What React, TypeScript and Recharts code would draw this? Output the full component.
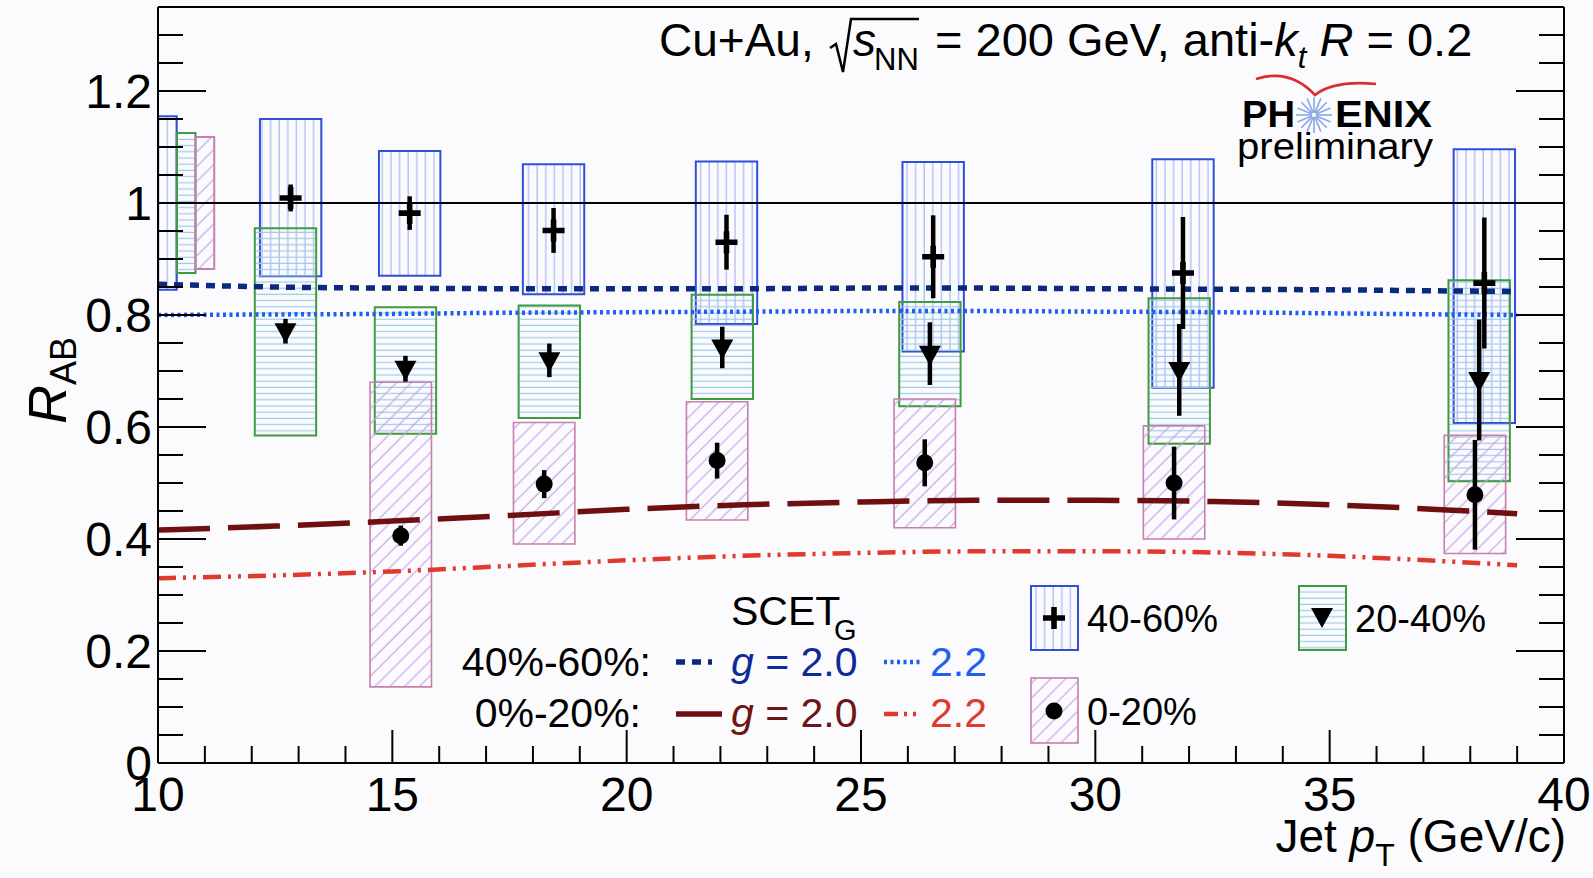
import {
  ComposedChart,
  XAxis,
  YAxis,
  Line,
  Scatter,
  ErrorBar,
  ReferenceArea,
  ReferenceLine,
} from "recharts";

const FONT = "'Liberation Sans', Arial, Helvetica, sans-serif";

// 40-60% centrality (crosses)
const pt4060 = [12.83, 15.37, 18.44, 22.13, 26.54, 31.87, 38.3];
const raa4060 = [1.009, 0.982, 0.951, 0.93, 0.904, 0.875, 0.857];
const stat4060 = [0.024, 0.03, 0.04, 0.049, 0.074, 0.1, 0.117];
const sysLow4060 = [0.869, 0.87, 0.837, 0.784, 0.735, 0.67, 0.607];
const sysHigh4060 = [1.15, 1.093, 1.069, 1.074, 1.073, 1.078, 1.096];

// 20-40% centrality (triangles)
const pt2040 = [12.72, 15.28, 18.35, 22.04, 26.47, 31.79, 38.19];
const raa2040 = [0.771, 0.704, 0.719, 0.742, 0.731, 0.702, 0.684];
const stat2040 = [0.022, 0.023, 0.03, 0.037, 0.056, 0.082, 0.108];
const sysLow2040 = [0.585, 0.588, 0.616, 0.65, 0.637, 0.57, 0.503];
const sysHigh2040 = [0.955, 0.814, 0.817, 0.836, 0.823, 0.83, 0.862];

// 0-20% centrality (circles)
const pt020 = [15.18, 18.24, 21.93, 26.36, 31.68, 38.1];
const raa020 = [0.406, 0.498, 0.54, 0.536, 0.5, 0.479];
const stat020 = [0.018, 0.025, 0.032, 0.042, 0.065, 0.098];
const sysLow020 = [0.136, 0.391, 0.434, 0.42, 0.4, 0.374];
const sysHigh020 = [0.68, 0.608, 0.645, 0.65, 0.602, 0.585];

// global normalisation uncertainties at R_AB = 1 (40-60, 20-40, 0-20)
const normUnc = [0.155, 0.125, 0.118];

// SCET_G calculations
const theoryPt = [10, 12.5, 15, 17.5, 20, 22.5, 25, 27.5, 30, 32.5, 35, 37.5, 39];
const scet4060g20 = [0.855, 0.85, 0.848, 0.847, 0.847, 0.847, 0.848, 0.848, 0.847, 0.846, 0.845, 0.843, 0.842];
const scet4060g22 = [0.8, 0.801, 0.802, 0.804, 0.805, 0.806, 0.807, 0.807, 0.806, 0.805, 0.803, 0.801, 0.8];
const scet020g20 = [0.416, 0.423, 0.432, 0.442, 0.453, 0.461, 0.466, 0.469, 0.469, 0.467, 0.461, 0.452, 0.445];
const scet020g22 = [0.33, 0.335, 0.342, 0.352, 0.362, 0.37, 0.375, 0.378, 0.378, 0.376, 0.37, 0.36, 0.353];

const xMajorTicks = [10, 15, 20, 25, 30, 35, 40];
const xTicks = Array.from({ length: 31 }, (_, i) => 10 + i);
const yTicks = Array.from({ length: 27 }, (_, i) => Number((i * 0.05).toFixed(2)));

const BOX_HALF = 0.655;
const NORM_W = 0.4;

const BLUE_BOX = "#2f4fd6";
const GREEN_BOX = "#3f9b3f";
const PINK_BOX = "#c57fb0";

const points = (xs: number[], ys: number[], errs: number[]) =>
  xs.map((x, i) => ({ x, y: ys[i], err: errs[i] }));
const curve = (xs: number[], ys: number[]) => xs.map((x, i) => ({ x, y: ys[i] }));

function CrossMark({ cx, cy }: any) {
  return (
    <path
      d={`M${cx - 11},${cy - 2.8}h22v5.6h-22z M${cx - 2.8},${cy - 11}h5.6v22h-5.6z`}
      fill="#000"
    />
  );
}

function TriangleMark({ cx, cy }: any) {
  return <path d={`M${cx - 11},${cy - 8}L${cx + 11},${cy - 8}L${cx},${cy + 12}Z`} fill="#000" />;
}

function CircleMark({ cx, cy }: any) {
  return <circle cx={cx} cy={cy} r={8.5} fill="#000" />;
}

function XTick({ x, y, payload }: any) {
  const v = payload.value;
  const major = xMajorTicks.includes(v);
  return (
    <g>
      <line x1={x} x2={x} y1={y} y2={y - (major ? 33 : 17)} stroke="#000" strokeWidth={2} />
      {major && (
        <text x={x} y={y + 48} textAnchor="middle" fontSize={48} fontFamily={FONT} fill="#000">
          {v}
        </text>
      )}
    </g>
  );
}

function YTickLeft({ x, y, payload }: any) {
  const v = payload.value;
  const major = Math.round(v * 100) % 20 === 0;
  return (
    <g>
      <line x1={x} x2={x + (major ? 48 : 25)} y1={y} y2={y} stroke="#000" strokeWidth={2} />
      {major && (
        <text x={x - 6} y={y + 17} textAnchor="end" fontSize={48} fontFamily={FONT} fill="#000">
          {String(v)}
        </text>
      )}
    </g>
  );
}

function YTickRight({ x, y, payload }: any) {
  const v = payload.value;
  const major = Math.round(v * 100) % 20 === 0;
  return <line x1={x} x2={x - (major ? 48 : 25)} y1={y} y2={y} stroke="#000" strokeWidth={2} />;
}

function Star({ cx, cy, r }: { cx: number; cy: number; r: number }) {
  const spokes = Array.from({ length: 16 }, (_, i) => (i * Math.PI) / 8);
  return (
    <g stroke="#8aa8e8" strokeWidth={1.6}>
      {spokes.map((a, i) => (
        <line key={i} x1={cx + 3 * Math.cos(a)} y1={cy + 3 * Math.sin(a)} x2={cx + r * Math.cos(a)} y2={cy + r * Math.sin(a)} />
      ))}
      <circle cx={cx} cy={cy} r={3} fill="none" />
    </g>
  );
}

function Overlay() {
  return (
    <g fontFamily={FONT} fill="#000">
      {/* header */}
      <text x={659} y={56} fontSize={46}>Cu+Au,</text>
      <path d="M830,48 L836,44 L843,72 L851,19 L919,19" fill="none" stroke="#000" strokeWidth={2.5} />
      <text x={853} y={56} fontSize={46} fontStyle="italic">s</text>
      <text x={874} y={70} fontSize={31}>NN</text>
      <text x={935} y={56} fontSize={47}>
        <tspan>= 200 GeV, anti-</tspan>
        <tspan fontStyle="italic">k</tspan>
        <tspan fontStyle="italic" fontSize={31} dy={12}>t</tspan>
        <tspan dy={-12}> </tspan>
        <tspan fontStyle="italic">R</tspan>
        <tspan> = 0.2</tspan>
      </text>

      {/* PHENIX logo */}
      <path d="M1256,79 Q1290,68 1315,95 Q1334,80 1376,84" fill="none" stroke="#d8302c" strokeWidth={2.6} />
      <text x={1242} y={127} fontSize={36} fontWeight="bold" textLength={53} lengthAdjust="spacingAndGlyphs">PH</text>
      <Star cx={1314} cy={115} r={18} />
      <text x={1335} y={127} fontSize={36} fontWeight="bold" textLength={97} lengthAdjust="spacingAndGlyphs">ENIX</text>
      <text x={1237} y={159} fontSize={36} textLength={196} lengthAdjust="spacingAndGlyphs">preliminary</text>

      {/* theory legend */}
      <text x={731} y={625} fontSize={41}>SCET</text>
      <text x={834} y={640} fontSize={29}>G</text>
      <text x={651} y={676} fontSize={41} textAnchor="end">40%-60%:</text>
      <line x1={676} x2={712} y1={662} y2={662} stroke="#0b2a7d" strokeWidth={5.5} strokeDasharray="9 7" />
      <text x={731} y={676} fontSize={41} fill="#0d2a96">
        <tspan fontStyle="italic">g</tspan> = 2.0
      </text>
      <line x1={884} x2={920} y1={662} y2={662} stroke="#1f5ef0" strokeWidth={4.5} strokeDasharray="3 3.5" />
      <text x={930} y={676} fontSize={41} fill="#1f5ef0">2.2</text>
      <text x={641} y={727} fontSize={41} textAnchor="end">0%-20%:</text>
      <line x1={676} x2={722} y1={714} y2={714} stroke="#6e1010" strokeWidth={5.5} />
      <text x={731} y={727} fontSize={41} fill="#6e1515">
        <tspan fontStyle="italic">g</tspan> = 2.0
      </text>
      <line x1={884} x2={920} y1={714} y2={714} stroke="#e03a2e" strokeWidth={4.5} strokeDasharray="14 6 3 6 3 6" />
      <text x={930} y={727} fontSize={41} fill="#e03a2e">2.2</text>

      {/* data legend */}
      <rect x={1031} y={586} width={47} height={64} fill="url(#hatchV)" stroke={BLUE_BOX} strokeWidth={2} />
      <CrossMark cx={1054} cy={618} />
      <text x={1087} y={632} fontSize={38}>40-60%</text>
      <rect x={1299} y={586} width={47} height={64} fill="url(#hatchH)" stroke={GREEN_BOX} strokeWidth={2} />
      <TriangleMark cx={1322} cy={616} />
      <text x={1355} y={632} fontSize={38}>20-40%</text>
      <rect x={1031} y={678} width={47} height={65} fill="url(#hatchD)" stroke={PINK_BOX} strokeWidth={1.6} />
      <CircleMark cx={1054} cy={711} />
      <text x={1087} y={725} fontSize={38}>0-20%</text>

      {/* axis titles */}
      <text x={1566} y={852} fontSize={46} textAnchor="end">
        Jet <tspan fontStyle="italic">p</tspan>
        <tspan fontSize={32} dy={14}>T</tspan>
        <tspan dy={-14}> (GeV/c)</tspan>
      </text>
      <text transform="translate(66,424) rotate(-90)" fontSize={54}>
        <tspan fontStyle="italic">R</tspan>
        <tspan fontSize={36} dy={10}>AB</tspan>
      </text>
    </g>
  );
}

export default function App() {
  const d4060 = points(pt4060, raa4060, stat4060);
  const d2040 = points(pt2040, raa2040, stat2040);
  const d020 = points(pt020, raa020, stat020);
  const normColors = [
    { fill: "url(#hatchV)", stroke: BLUE_BOX },
    { fill: "url(#hatchH)", stroke: GREEN_BOX },
    { fill: "url(#hatchD)", stroke: PINK_BOX },
  ];

  return (
    <div style={{ position: "absolute", left: 0, top: 0, width: 1593, height: 878, background: "#fbfbfe" }}>
      <ComposedChart width={1593} height={878} margin={{ top: 6, right: 28, bottom: 114, left: 157 }}>
        <defs>
          <pattern id="hatchV" patternUnits="userSpaceOnUse" width={8.6} height={10}>
            <line x1={4} y1={0} x2={4} y2={10} stroke="#a6b6f3" strokeWidth={1.2} />
          </pattern>
          <pattern id="hatchH" patternUnits="userSpaceOnUse" width={10} height={6.2}>
            <line x1={0} y1={3} x2={10} y2={3} stroke="#9fcbe6" strokeWidth={1.2} />
          </pattern>
          <pattern id="hatchD" patternUnits="userSpaceOnUse" width={10.5} height={10.5} patternTransform="rotate(45)">
            <line x1={5} y1={0} x2={5} y2={10.5} stroke="#c9a2e8" strokeWidth={1.2} />
          </pattern>
        </defs>

        <XAxis
          type="number"
          dataKey="x"
          domain={[10, 40]}
          allowDataOverflow
          ticks={xTicks}
          interval={0}
          height={1}
          tickSize={0}
          tickMargin={0}
          tickLine={false}
          tick={<XTick />}
          axisLine={{ stroke: "#000", strokeWidth: 2 }}
        />
        <XAxis
          xAxisId="top"
          orientation="top"
          type="number"
          domain={[10, 40]}
          allowDataOverflow
          height={1}
          tick={false}
          tickLine={false}
          axisLine={{ stroke: "#000", strokeWidth: 2 }}
        />
        <YAxis
          type="number"
          dataKey="y"
          domain={[0, 1.35]}
          allowDataOverflow
          ticks={yTicks}
          interval={0}
          width={1}
          tickSize={0}
          tickMargin={0}
          tickLine={false}
          tick={<YTickLeft />}
          axisLine={{ stroke: "#000", strokeWidth: 2 }}
        />
        <YAxis
          yAxisId="right"
          orientation="right"
          type="number"
          dataKey="y"
          domain={[0, 1.35]}
          allowDataOverflow
          ticks={yTicks}
          interval={0}
          width={1}
          tickSize={0}
          tickMargin={0}
          tickLine={false}
          tick={<YTickRight />}
          axisLine={{ stroke: "#000", strokeWidth: 2 }}
        />

        {normUnc.map((u, i) => (
          <ReferenceArea
            key={`norm-${i}`}
            x1={10 + i * NORM_W}
            x2={10 + (i + 1) * NORM_W}
            y1={1 - u}
            y2={1 + u}
            fill={normColors[i].fill}
            fillOpacity={1}
            stroke={normColors[i].stroke}
            strokeWidth={2}
          />
        ))}
        {pt4060.map((x, i) => (
          <ReferenceArea
            key={`b-${i}`}
            x1={x - BOX_HALF}
            x2={x + BOX_HALF}
            y1={sysLow4060[i]}
            y2={sysHigh4060[i]}
            fill="url(#hatchV)"
            fillOpacity={1}
            stroke={BLUE_BOX}
            strokeWidth={2}
          />
        ))}
        {pt2040.map((x, i) => (
          <ReferenceArea
            key={`g-${i}`}
            x1={x - BOX_HALF}
            x2={x + BOX_HALF}
            y1={sysLow2040[i]}
            y2={sysHigh2040[i]}
            fill="url(#hatchH)"
            fillOpacity={1}
            stroke={GREEN_BOX}
            strokeWidth={2}
          />
        ))}
        {pt020.map((x, i) => (
          <ReferenceArea
            key={`p-${i}`}
            x1={x - BOX_HALF}
            x2={x + BOX_HALF}
            y1={sysLow020[i]}
            y2={sysHigh020[i]}
            fill="url(#hatchD)"
            fillOpacity={1}
            stroke={PINK_BOX}
            strokeWidth={1.6}
          />
        ))}

        <ReferenceLine y={1} stroke="#000" strokeWidth={2} />

        <Line data={curve(theoryPt, scet4060g20)} dataKey="y" type="monotone" stroke="#0b2a7d" strokeWidth={5.5} strokeDasharray="9 7" dot={false} activeDot={false} isAnimationActive={false} />
        <Line data={curve(theoryPt, scet4060g22)} dataKey="y" type="monotone" stroke="#1f5ef0" strokeWidth={4.5} strokeDasharray="3 3.5" dot={false} activeDot={false} isAnimationActive={false} />
        <Line data={curve(theoryPt, scet020g20)} dataKey="y" type="monotone" stroke="#6e1010" strokeWidth={5.5} strokeDasharray="52 18" dot={false} activeDot={false} isAnimationActive={false} />
        <Line data={curve(theoryPt, scet020g22)} dataKey="y" type="monotone" stroke="#e03a2e" strokeWidth={4.5} strokeDasharray="18 7 3 7 3 7" dot={false} activeDot={false} isAnimationActive={false} />

        <Scatter data={d4060} dataKey="y" shape={CrossMark} isAnimationActive={false}>
          <ErrorBar dataKey="err" direction="y" width={0} stroke="#000" strokeWidth={4.5} />
        </Scatter>
        <Scatter data={d2040} dataKey="y" shape={TriangleMark} isAnimationActive={false}>
          <ErrorBar dataKey="err" direction="y" width={0} stroke="#000" strokeWidth={4.5} />
        </Scatter>
        <Scatter data={d020} dataKey="y" shape={CircleMark} isAnimationActive={false}>
          <ErrorBar dataKey="err" direction="y" width={0} stroke="#000" strokeWidth={4.5} />
        </Scatter>

        <Overlay />
      </ComposedChart>
    </div>
  );
}
